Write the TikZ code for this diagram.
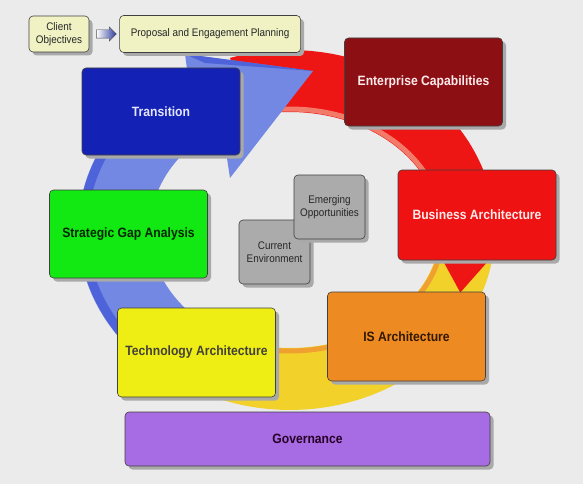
\documentclass[tikz,border=0pt]{standalone}
\usepackage{fontspec}
\setmainfont[FakeStretch=0.9]{Liberation Sans}
\usetikzlibrary{positioning}
\usetikzlibrary{calc}
\usetikzlibrary{shadows}
\usetikzlibrary{shapes.arrows}

\definecolor{bggray}{HTML}{EBEBEB}
\definecolor{shadowgray}{HTML}{A9A9A9}
\definecolor{ringred}{HTML}{EE1515}
\definecolor{ringpink}{HTML}{F27A68}
\definecolor{ringyellow}{HTML}{F2D22A}
\definecolor{ringorange}{HTML}{EFA030}
\definecolor{ringblue}{HTML}{7288E2}
\definecolor{ringdark}{HTML}{4E62DA}
\definecolor{capfill}{HTML}{8C0F14}
\definecolor{transfill}{HTML}{1322B5}
\definecolor{busfill}{HTML}{EE1212}
\definecolor{gapfill}{HTML}{12E812}
\definecolor{isfill}{HTML}{EE8A22}
\definecolor{techfill}{HTML}{EEEE14}
\definecolor{govfill}{HTML}{A76BE3}
\definecolor{envfill}{HTML}{ABABAB}
\definecolor{planfill}{HTML}{F0F2C4}
\definecolor{arrowblue}{HTML}{2C3A9C}

\begin{document}
\begin{tikzpicture}[x=1pt,y=-1pt,node distance=30pt,
  stage/.style={draw=black!75,line width=0.6pt,rounded corners=4pt,align=center,
    drop shadow={shadow xshift=3.5pt,shadow yshift=-3.5pt,fill=shadowgray,opacity=1},
    font=\fontsize{13.5}{15}\selectfont\bfseries,minimum width=158pt,minimum height=88pt},
  note/.style={stage,font=\fontsize{11}{13}\selectfont,text=black!85,
    minimum width=71pt,minimum height=64pt}]
  \fill[bggray] (0,0) rectangle (583,484);
  \useasboundingbox (0,0) rectangle (583,484);
  % the cycle
  \fill[ringyellow] plot[domain=-5:122,samples=40] ({290+205*cos(\x)},{230+180*sin(\x)})
    -- ({290+218*cos(122)},{230+193*sin(122)}) -- ({290+177*cos(140)},{230+149*sin(140)})
    -- ({290+137*cos(122)},{230+105*sin(122)})
    -- plot[domain=122:-5,samples=40] ({290+150*cos(\x)},{230+118*sin(\x)}) -- cycle;
  \draw[ringorange,line width=5pt] plot[domain=-5:120,samples=40] ({290+153*cos(\x)},{230+121*sin(\x)});
  \fill[ringred] plot[domain=-107:5,samples=40] ({290+205*cos(\x)},{230+180*sin(\x)})
    -- ({290+212*cos(5)},{230+187*sin(5)}) -- ({290+185*cos(23)},{230+160*sin(23)})
    -- ({290+142*cos(5)},{230+110*sin(5)})
    -- plot[domain=5:-107,samples=40] ({290+150*cos(\x)},{230+118*sin(\x)}) -- cycle;
  \draw[ringpink,line width=5pt] plot[domain=-107:3,samples=40] ({290+153*cos(\x)},{230+121*sin(\x)});
  \fill[ringblue] plot[domain=135:241,samples=40] ({290+212*cos(\x)},{230+182*sin(\x)})
    -- (185,54) -- (313,71) -- (230,178)
    -- plot[domain=241:135,samples=40] ({290+140*cos(\x)},{230+118*sin(\x)}) -- cycle;
  \draw[ringdark,line width=9pt] plot[domain=135:239,samples=40] ({290+207*cos(\x)},{230+177*sin(\x)});
  \fill[ringdark] (185,54) -- (313,71) -- (205,63) -- cycle;
  % boxes
  \node[stage,fill=planfill,font=\fontsize{11}{13}\selectfont,text=black!85,
    minimum width=60pt,minimum height=36pt,inner sep=1pt](client) at (59,34) {Client\\Objectives};
  \node[stage,fill=planfill,font=\fontsize{11}{13}\selectfont,text=black!85,
    minimum width=181pt,minimum height=37pt,right=of client](planning) {Proposal and Engagement Planning};
  \node[single arrow,draw=black!70,left color=white,right color=arrowblue,
    minimum height=20pt,inner xsep=0pt,inner ysep=4pt,single arrow head extend=3pt]
    (flow) at ($(client.east)!0.5!(planning.west)$) {};
  \node[stage,fill=capfill,text=red!8](entcap) at (423.5,82) {Enterprise Capabilities};
  \node[stage,fill=transfill,text=blue!10,minimum height=87pt](transition) at (161,111.5) {Transition};
  \node[stage,fill=busfill,text=red!8,minimum height=90pt](busarch) at (477,215) {Business Architecture};
  \node[stage,fill=gapfill,text=black!85!green](gap) at (128.5,234) {Strategic Gap Analysis};
  \node[note,fill=envfill](current) at (274.5,252) {Current\\Environment};
  \node[note,fill=envfill](emerging) at (329.5,207) {Emerging\\Opportunities};
  \node[stage,fill=isfill,text=black!80!orange,minimum height=89pt](isarch) at (406.5,336.5) {IS Architecture};
  \node[stage,fill=techfill,text=black!85!yellow,minimum height=89pt](techarch) at (196.5,352.5) {Technology Architecture};
  \node[stage,fill=govfill,text=black!70!violet,minimum width=365pt,minimum height=54pt](governance) at (307.5,439) {Governance};
\end{tikzpicture}
\end{document}
